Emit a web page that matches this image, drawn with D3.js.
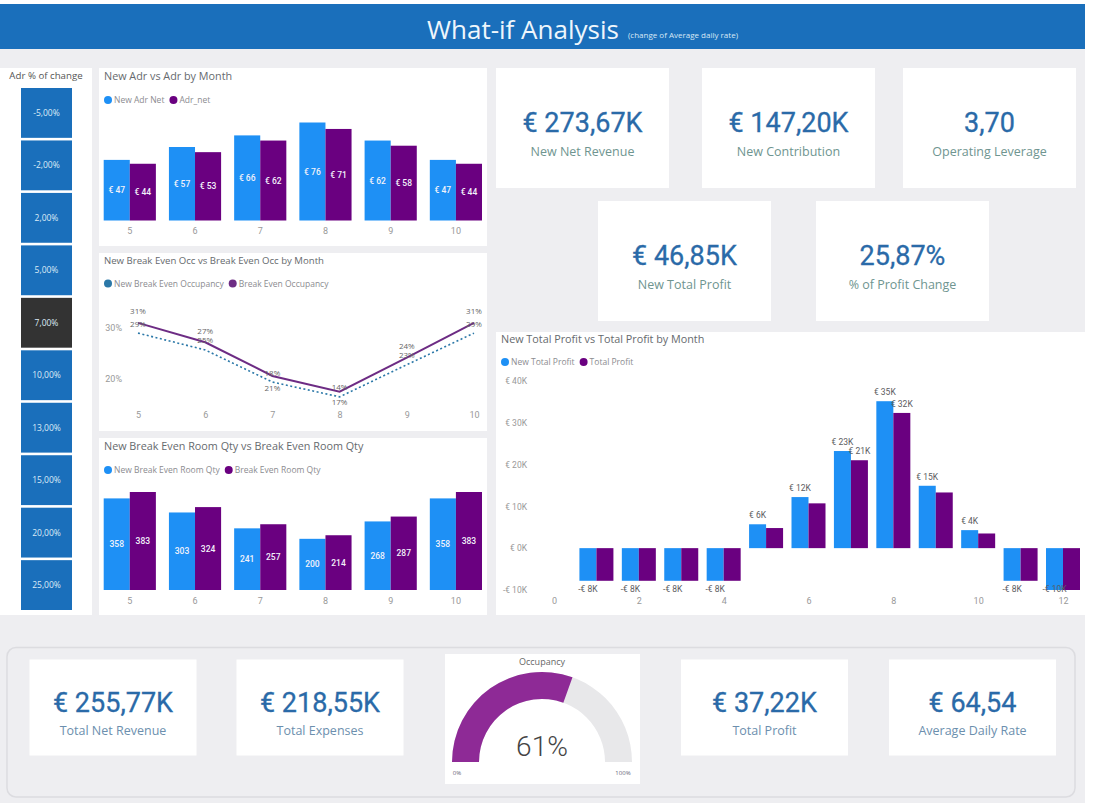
<!DOCTYPE html>
<html>
<head>
<meta charset="utf-8">
<title>What-if Analysis</title>
<script src="https://cdnjs.cloudflare.com/ajax/libs/d3/7.8.5/d3.min.js"></script>
<style>
  html, body { margin: 0; padding: 0; background: #fff; }
  svg { display: block; }
  text { font-family: "Open Sans", sans-serif; }
  .num { font-family: Roboto, sans-serif; }
</style>
</head>
<body>
<div id="chart"></div>
<script>
"use strict";

// slicer
var adrChanges = ["-5,00%", "-2,00%", "2,00%", "5,00%", "7,00%", "10,00%", "13,00%", "15,00%", "20,00%", "25,00%"];
var selectedChange = "7,00%";

// small charts share the same months
var months = [5, 6, 7, 8, 9, 10];
var newAdr = [47, 57, 66, 76, 62, 47];
var adrNet = [44, 53, 62, 71, 58, 44];

var newOcc = [29, 25.7, 19.4, 16.5, 22.8, 29];
var breakEvenOcc = [31, 27.2, 20.6, 17.5, 24.2, 31];
var newOccLabels = ["29%", "25%", "18%", "14%", "23%", "29%"];
var breakEvenOccLabels = ["31%", "27%", "21%", "17%", "24%", "31%"];
var occTicks = [20, 30];

var newRoomQty = [358, 303, 241, 200, 268, 358];
var roomQty = [383, 324, 257, 214, 287, 383];

// total profit, in thousands
var profitMonths = [1, 2, 3, 4, 5, 6, 7, 8, 9, 10, 11, 12];
var newProfit = [-7.8, -7.8, -7.8, -7.8, 5.7, 12.2, 23.2, 35.1, 14.9, 4.3, -7.8, -10];
var oldProfit = [-7.8, -7.8, -7.8, -7.8, 4.8, 10.7, 21, 32.3, 13.3, 3.5, -7.8, -10];
var newProfitLabels = ["-€ 8K", "-€ 8K", "-€ 8K", "-€ 8K", "€ 6K", "€ 12K", "€ 23K", "€ 35K", "€ 15K", "€ 4K", "-€ 8K", "-€ 10K"];
var oldProfitLabels = ["", "", "", "", "", "", "€ 21K", "€ 32K", "", "", "", ""];
var profitTicks = [-10, 0, 10, 20, 30, 40];
var profitMonthTicks = [0, 2, 4, 6, 8, 10, 12];

// cards
var topCardValues = ["€ 273,67K", "€ 147,20K", "3,70", "€ 46,85K", "25,87%"];
var topCardLabels = ["New Net Revenue", "New Contribution", "Operating Leverage", "New Total Profit", "% of Profit Change"];
var bottomCardValues = ["€ 255,77K", "€ 218,55K", "€ 37,22K", "€ 64,54"];
var bottomCardLabels = ["Total Net Revenue", "Total Expenses", "Total Profit", "Average Daily Rate"];
var occupancy = 61;

// colors
var blue = "#1e90f5";
var purple = "#6a0080";
var lineBlue = "#2b78a8";
var linePurple = "#6d2c84";
var headerBlue = "#1a6fbb";
var pageGray = "#eeeef1";
var axisGray = "#999999";
var titleGray = "#666a6e";

var svg = d3.select("#chart").append("svg").attr("width", 1100).attr("height", 803);

// page background and header
addRect(svg, 0, 4, 1085, 799, pageGray);
addRect(svg, 0, 4, 1085, 45, headerBlue);
svg.append("text").attr("x", 427).attr("y", 39).attr("font-size", 26).attr("fill", "#eef6fc").text("What-if Analysis");
svg.append("text").attr("x", 628).attr("y", 38).attr("font-size", 8).attr("fill", "#d8e8f5").text("(change of Average daily rate)");

// slicer
addRect(svg, 0, 68, 92, 547, "#fff");
svg.append("text").attr("x", 46).attr("y", 79).attr("text-anchor", "middle").attr("font-size", 9.7).attr("fill", "#555").text("Adr % of change");

var slicerScale = d3.scaleBand().domain(adrChanges).range([88, 610]).paddingInner(0.05);
var slicer = svg.append("g").selectAll("g").data(adrChanges).enter().append("g");
slicer.append("rect")
  .attr("x", 21)
  .attr("y", function(d) { return slicerScale(d); })
  .attr("width", 51)
  .attr("height", slicerScale.bandwidth())
  .attr("fill", function(d) { return d === selectedChange ? "#333333" : headerBlue; });
slicer.append("text")
  .attr("x", 46.5)
  .attr("y", function(d) { return slicerScale(d) + slicerScale.bandwidth() / 2 + 3; })
  .attr("text-anchor", "middle")
  .attr("font-size", 8.5)
  .attr("fill", "#dcebf7")
  .text(function(d) { return d; });

// grouped bar panels on the left
drawBarPanel({
  top: 68, height: 178, baseline: 220.5, barTop: 122.5,
  title: "New Adr vs Adr by Month",
  legend: ["New Adr Net", "Adr_net"],
  series: [newAdr, adrNet],
  labels: [newAdr.map(euro), adrNet.map(euro)],
  axisY: 234
});

drawLinePanel();

drawBarPanel({
  top: 438, height: 177, baseline: 590, barTop: 492,
  title: "New Break Even Room Qty vs Break Even Room Qty",
  legend: ["New Break Even Room Qty", "Break Even Room Qty"],
  series: [newRoomQty, roomQty],
  labels: [newRoomQty, roomQty],
  axisY: 604
});

drawProfitPanel();

// cards on the top right
var topCardX = [496, 702, 903, 598, 816];
var topCardY = [68, 68, 68, 201, 201];
topCardValues.forEach(function(value, i) {
  drawCard(topCardX[i], topCardY[i], 173, 120, value, topCardLabels[i], 64, 84, "#6f9590");
});

// bottom band
svg.append("rect")
  .attr("x", 7).attr("y", 647.5).attr("width", 1068).attr("height", 149.5).attr("rx", 9)
  .attr("fill", pageGray).attr("stroke", "#dcdce0").attr("stroke-width", 1.5);
var bottomCardX = [29.5, 236.5, 681, 889];
bottomCardValues.forEach(function(value, i) {
  drawCard(bottomCardX[i], 659.5, 167, 96, value, bottomCardLabels[i], 52, 71, "#6c8fae");
});
drawGauge();

// helpers
function euro(v) {
  return "€ " + v;
}

function addRect(parent, x, y, w, h, fill) {
  return parent.append("rect").attr("x", x).attr("y", y).attr("width", w).attr("height", h).attr("fill", fill);
}

function drawTitle(x, y, text, size) {
  svg.append("text").attr("x", x).attr("y", y).attr("font-size", size).attr("fill", titleGray).text(text);
}

function drawLegend(x, y, names, colors) {
  var cursor = x;
  names.forEach(function(name, i) {
    svg.append("circle").attr("cx", cursor + 4).attr("cy", y).attr("r", 4).attr("fill", colors[i]);
    var label = svg.append("text")
      .attr("x", cursor + 10)
      .attr("y", y + 3)
      .attr("font-size", 8.5)
      .attr("fill", "#8c8c90")
      .text(name);
    cursor += 10 + label.node().getComputedTextLength() + 5;
  });
}

function styleAxis(axisGroup, size, color) {
  axisGroup.select(".domain").remove();
  axisGroup.selectAll("text")
    .attr("class", "num")
    .attr("font-size", size)
    .attr("fill", color);
}

function drawBarPanel(opts) {
  addRect(svg, 99, opts.top, 388, opts.height, "#fff");
  drawTitle(104, opts.top + 12, opts.title, 10.8);
  drawLegend(104, opts.top + 32, opts.legend, [blue, purple]);

  var x = d3.scaleBand().domain(months).range([103.7, 482]).paddingInner(0.2);
  var inner = d3.scaleBand().domain([0, 1]).range([0, x.bandwidth()]);
  var y = d3.scaleLinear()
    .domain([0, d3.max(opts.series[0].concat(opts.series[1]))])
    .range([opts.baseline, opts.barTop]);
  var colors = [blue, purple];

  opts.series.forEach(function(values, s) {
    var cells = svg.append("g").selectAll("g").data(values).enter().append("g");
    cells.append("rect")
      .attr("x", function(d, i) { return x(months[i]) + inner(s); })
      .attr("y", function(d) { return y(d); })
      .attr("width", inner.bandwidth())
      .attr("height", function(d) { return opts.baseline - y(d); })
      .attr("fill", colors[s]);
    cells.append("text")
      .attr("class", "num")
      .attr("x", function(d, i) { return x(months[i]) + inner(s) + inner.bandwidth() / 2; })
      .attr("y", function(d) { return (y(d) + opts.baseline) / 2 + 3; })
      .attr("text-anchor", "middle")
      .attr("font-size", 8.5)
      .attr("font-weight", 500)
      .attr("fill", "#f2f2fa")
      .text(function(d, i) { return opts.labels[s][i]; });
  });

  var axis = svg.append("g")
    .attr("transform", "translate(0," + (opts.axisY - 9) + ")")
    .call(d3.axisBottom(x).tickSize(0));
  styleAxis(axis, 9, axisGray);
}

function drawLinePanel() {
  addRect(svg, 99, 253, 388, 178, "#fff");
  drawTitle(104, 264, "New Break Even Occ vs Break Even Occ by Month", 9.6);
  drawLegend(104, 283.5, ["New Break Even Occupancy", "Break Even Occupancy"], [lineBlue, linePurple]);

  var x = d3.scalePoint().domain(months).range([138, 474]);
  var y = d3.scaleLinear().domain([20, 30]).range([379, 328]);
  var line = d3.line()
    .x(function(d, i) { return x(months[i]); })
    .y(function(d) { return y(d); });

  svg.append("path").datum(newOcc)
    .attr("d", line).attr("fill", "none")
    .attr("stroke", lineBlue).attr("stroke-width", 1.6).attr("stroke-dasharray", "2 2.5");
  svg.append("path").datum(breakEvenOcc)
    .attr("d", line).attr("fill", "none")
    .attr("stroke", linePurple).attr("stroke-width", 2);

  var labelStyle = function(sel) {
    sel.attr("text-anchor", "middle").attr("font-size", 8).attr("fill", "#666");
  };
  svg.append("g").selectAll("text").data(newOccLabels).enter().append("text")
    .call(labelStyle)
    .attr("x", function(d, i) { return x(months[i]); })
    .attr("y", function(d, i) { return y(newOcc[i]) - 6.5; })
    .text(function(d) { return d; });
  // the two low months have their label pushed under the dotted line
  svg.append("g").selectAll("text").data(breakEvenOccLabels).enter().append("text")
    .call(labelStyle)
    .attr("x", function(d, i) { return x(months[i]); })
    .attr("y", function(d, i) {
      return (months[i] === 7 || months[i] === 8) ? y(newOcc[i]) + 8.5 : y(breakEvenOcc[i]) - 8.5;
    })
    .text(function(d) { return d; });

  var xAxis = svg.append("g")
    .attr("transform", "translate(0,409)")
    .call(d3.axisBottom(x).tickSize(0));
  styleAxis(xAxis, 9, axisGray);

  var yAxis = svg.append("g")
    .attr("transform", "translate(125,0)")
    .call(d3.axisLeft(y).tickValues(occTicks).tickSize(0).tickFormat(function(d) { return d + "%"; }));
  styleAxis(yAxis, 9, axisGray);
}

function drawProfitPanel() {
  addRect(svg, 496, 332, 589, 283, "#fff");
  drawTitle(501, 343, "New Total Profit vs Total Profit by Month", 10.8);
  drawLegend(501, 362, ["New Total Profit", "Total Profit"], [blue, purple]);

  var x = d3.scaleLinear().domain([0, 12]).range([554, 1063]);
  var y = d3.scaleLinear().domain([-10, 40]).range([590, 380.7]);
  var barWidth = 17;

  var cells = svg.append("g").selectAll("g").data(profitMonths).enter().append("g");
  [newProfit, oldProfit].forEach(function(values, s) {
    cells.append("rect")
      .attr("x", function(d, i) { return x(d) - barWidth + s * barWidth; })
      .attr("y", function(d, i) { return Math.min(y(values[i]), y(0)); })
      .attr("width", barWidth)
      .attr("height", function(d, i) { return Math.abs(y(values[i]) - y(0)); })
      .attr("fill", s === 0 ? blue : purple);
  });

  [[newProfit, newProfitLabels], [oldProfit, oldProfitLabels]].forEach(function(pair, s) {
    cells.append("text")
      .attr("x", function(d) { return x(d) - barWidth / 2 + s * barWidth; })
      .attr("y", function(d, i) {
        var v = pair[0][i];
        return v < 0 ? Math.min(y(v) + 11, 592) : y(v) - 6;
      })
      .attr("class", "num")
      .attr("text-anchor", "middle")
      .attr("font-size", 8.5)
      .attr("fill", "#5c5c60")
      .text(function(d, i) { return pair[1][i]; });
  });

  var xAxis = svg.append("g")
    .attr("transform", "translate(0,595)")
    .call(d3.axisBottom(x).tickValues(profitMonthTicks).tickSize(0).tickFormat(d3.format("d")));
  styleAxis(xAxis, 9, axisGray);

  var yAxis = svg.append("g")
    .attr("transform", "translate(530,0)")
    .call(d3.axisLeft(y).tickValues(profitTicks).tickSize(0).tickFormat(function(d) {
      return d < 0 ? "-€ " + (-d) + "K" : "€ " + d + "K";
    }));
  styleAxis(yAxis, 8.5, axisGray);
}

function drawCard(x, y, w, h, value, label, valueY, labelY, labelColor) {
  addRect(svg, x, y, w, h, "#fff");
  svg.append("text")
    .attr("class", "num")
    .attr("x", x + w / 2)
    .attr("y", y + valueY)
    .attr("text-anchor", "middle")
    .attr("font-size", 27)
    .attr("fill", "#2a6aa8")
    .attr("stroke", "#2a6aa8")
    .attr("stroke-width", 0.3)
    .text(value);
  svg.append("text")
    .attr("x", x + w / 2)
    .attr("y", y + labelY + 4)
    .attr("text-anchor", "middle")
    .attr("font-size", 12.5)
    .attr("fill", labelColor)
    .text(label);
}

function drawGauge() {
  addRect(svg, 445, 654, 195, 130, "#fff");
  svg.append("text").attr("x", 542).attr("y", 665).attr("text-anchor", "middle").attr("font-size", 9).attr("fill", "#666").text("Occupancy");

  var angle = d3.scaleLinear().domain([0, 100]).range([-Math.PI / 2, Math.PI / 2]);
  var arc = d3.arc().innerRadius(63).outerRadius(90);
  var gauge = svg.append("g").attr("transform", "translate(542,762)");
  gauge.append("path")
    .attr("d", arc({ startAngle: angle(0), endAngle: angle(100) }))
    .attr("fill", "#e8e8ea");
  gauge.append("path")
    .attr("d", arc({ startAngle: angle(0), endAngle: angle(occupancy) }))
    .attr("fill", "#8e2a96");

  svg.append("text")
    .attr("class", "num")
    .attr("x", 542).attr("y", 756)
    .attr("text-anchor", "middle")
    .attr("font-size", 28)
    .attr("font-weight", 300)
    .attr("fill", "#444")
    .text(occupancy + "%");
  svg.append("text").attr("x", 457).attr("y", 775).attr("text-anchor", "middle").attr("font-size", 6).attr("fill", "#667").text("0%");
  svg.append("text").attr("x", 623).attr("y", 775).attr("text-anchor", "middle").attr("font-size", 6).attr("fill", "#667").text("100%");
}
</script>
</body>
</html>
